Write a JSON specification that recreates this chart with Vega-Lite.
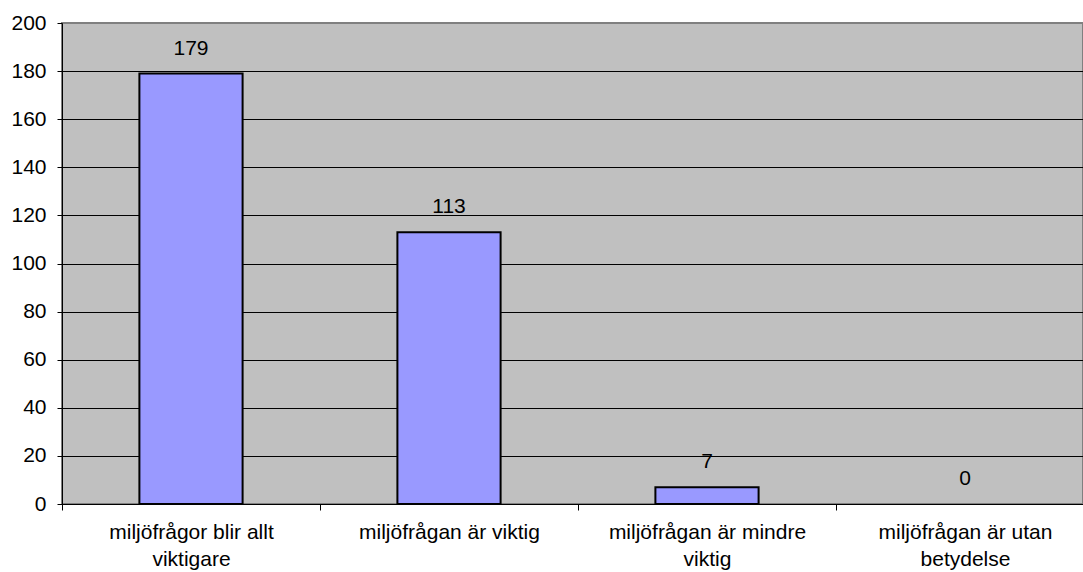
{
  "$schema": "https://vega.github.io/schema/vega-lite/v6.json",
  "autosize": {"type": "none"},
  "padding": {"left": 62, "top": 23, "right": 0, "bottom": 68},
  "width": 1021,
  "height": 481,
  "background": "white",
  "config": {
    "view": {"fill": "#C0C0C0", "stroke": "#808080", "strokeWidth": 2},
    "font": "Liberation Sans"
  },
  "data": {
    "values": [
      {"category": "miljöfrågor blir allt viktigare", "count": 179},
      {"category": "miljöfrågan är viktig", "count": 113},
      {"category": "miljöfrågan är mindre viktig", "count": 7},
      {"category": "miljöfrågan är utan betydelse", "count": 0}
    ]
  },
  "encoding": {
    "x": {
      "field": "category",
      "type": "nominal",
      "sort": null,
      "scale": {"paddingInner": 0, "paddingOuter": 0, "range": [0, 1032]},
      "axis": {
        "title": null,
        "labelAngle": 0,
        "labelFont": "Liberation Sans",
        "labelFontSize": 21,
        "labelColor": "black",
        "labelLineHeight": 27,
        "labelPadding": 11,
        "labelBaseline": "top",
        "labelLimit": 400,
        "tickBand": "extent",
        "tickColor": "black",
        "tickSize": 6,
        "domainColor": "black",
        "domainWidth": 1,
        "labelExpr": "datum.value == 'miljöfrågor blir allt viktigare' ? ['miljöfrågor blir allt', 'viktigare'] : datum.value == 'miljöfrågan är mindre viktig' ? ['miljöfrågan är mindre', 'viktig'] : datum.value == 'miljöfrågan är utan betydelse' ? ['miljöfrågan är utan', 'betydelse'] : datum.value"
      }
    },
    "y": {
      "field": "count",
      "type": "quantitative",
      "scale": {"domain": [0, 200], "nice": false},
      "axis": {
        "title": null,
        "values": [0, 20, 40, 60, 80, 100, 120, 140, 160, 180, 200],
        "labelFont": "Liberation Sans",
        "labelFontSize": 21,
        "labelColor": "black",
        "labelPadding": 11,
        "tickColor": "black",
        "tickSize": 5,
        "domainColor": "black",
        "grid": true,
        "gridColor": {"condition": {"test": "datum.value == 200", "value": "#808080"}, "value": "black"},
        "gridWidth": 1,
        "gridOpacity": 1
      }
    }
  },
  "layer": [
    {
      "transform": [{"filter": "datum.count > 0"}],
      "mark": {"type": "bar", "width": {"band": 0.4}, "fill": "#9999FF", "stroke": "black", "strokeWidth": 2}
    },
    {
      "mark": {"type": "text", "font": "Liberation Sans", "fontSize": 21, "color": "black", "baseline": "middle", "dy": -25},
      "encoding": {"text": {"field": "count", "type": "quantitative"}}
    }
  ]
}
